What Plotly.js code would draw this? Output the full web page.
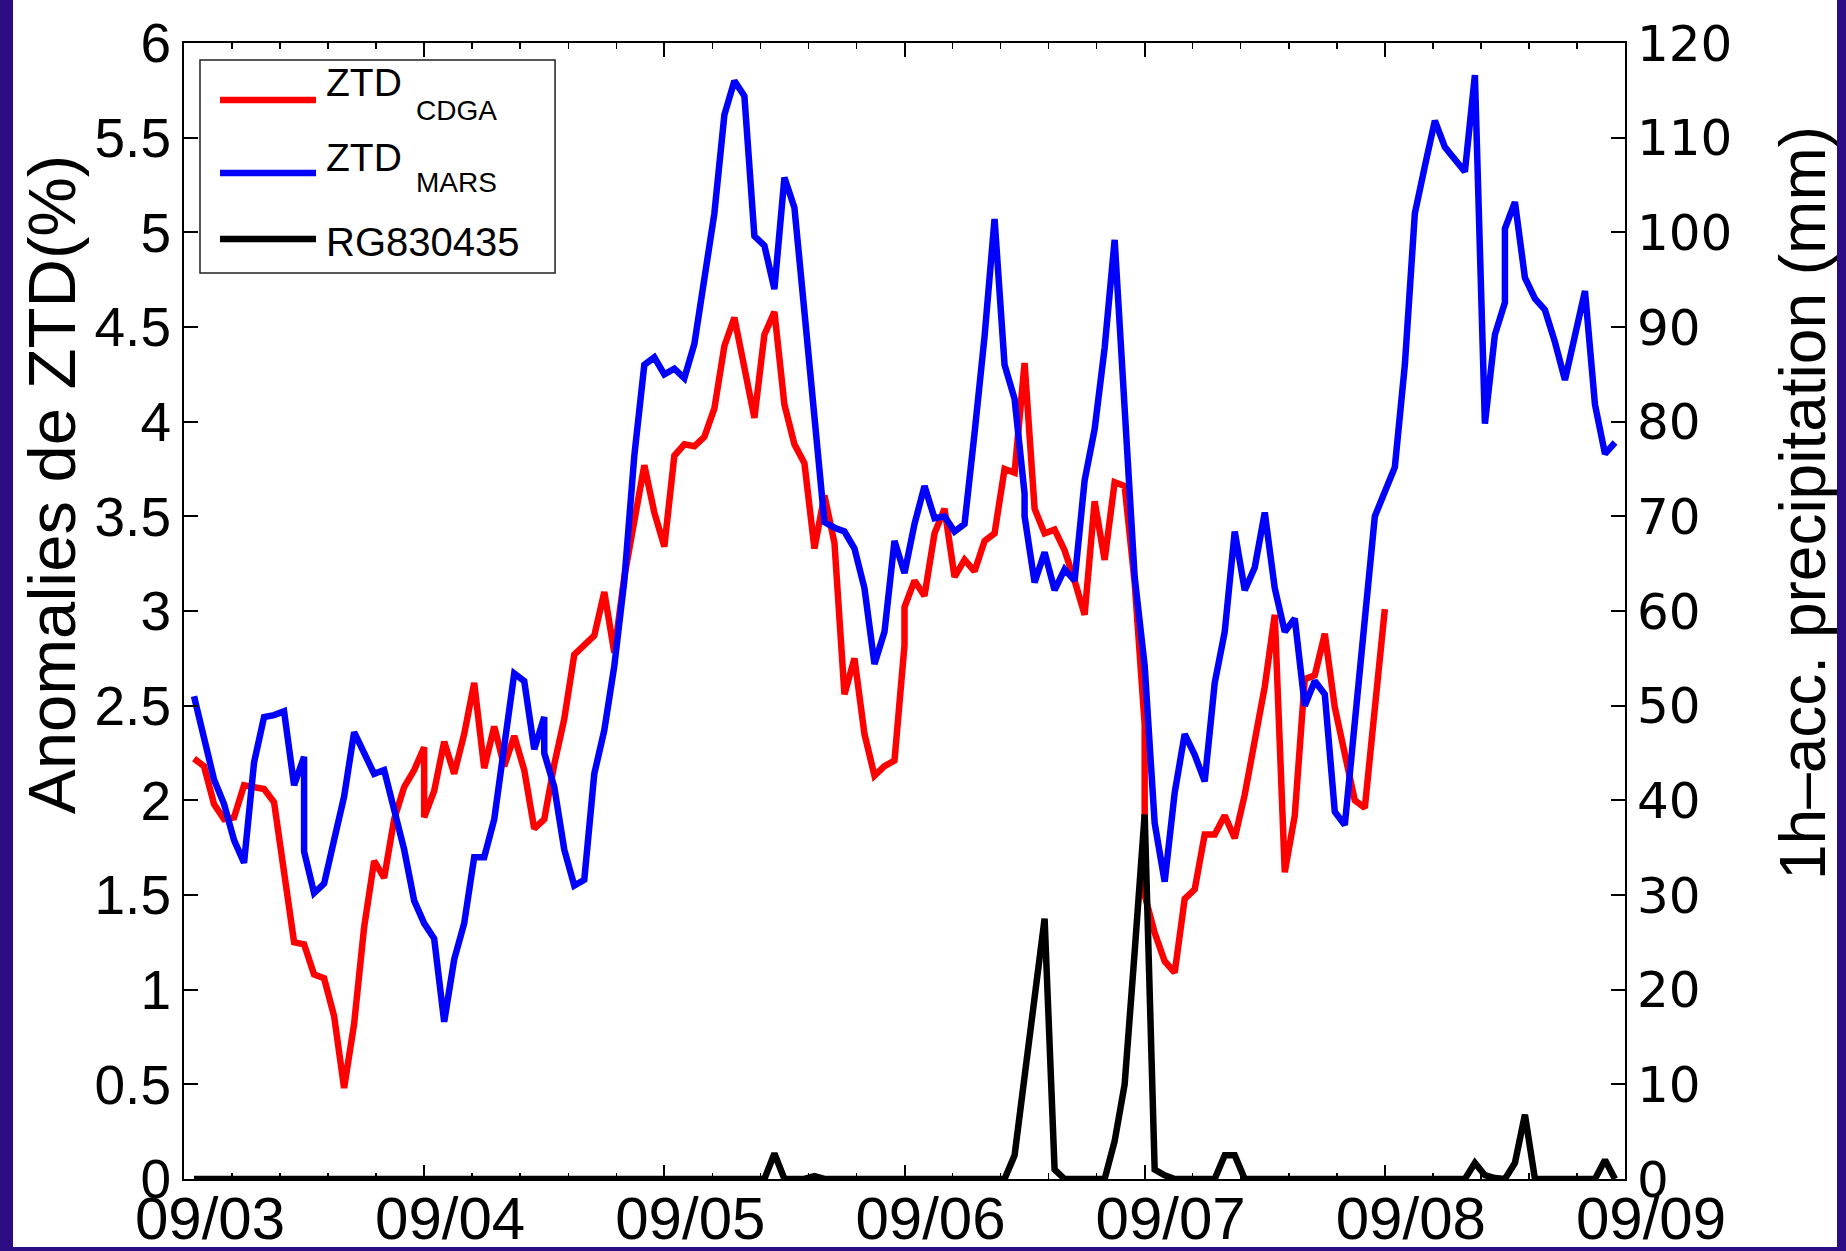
<!DOCTYPE html>
<html>
<head>
<meta charset="utf-8">
<script src="https://cdn.plot.ly/plotly-3.0.1.min.js"></script>
<style>
  html, body { margin: 0; padding: 0; width: 1846px; height: 1251px; overflow: hidden; background: #2c0c82; }
  #chart { position: absolute; left: 13px; top: 0; width: 1824px; height: 1247px; background: #fff; }
</style>
</head>
<body>
<div id="chart"></div>
<script>
// Time axis: hours after 09/03 00:00
const dayTicks = [0, 24, 48, 72, 96, 120, 144];
const dayLabels = ['09/03', '09/04', '09/05', '09/06', '09/07', '09/08', '09/09'];

// ZTD anomalies (%) from the CDGA solution, hourly, one array per processing window
const cdgaStarts = [1, 24, 48, 72, 96];
const cdgaWin1 = [2.22, 2.18, 1.98, 1.90, 1.91, 2.08, 2.07, 2.06, 1.99, 1.62, 1.25, 1.24, 1.08, 1.06, 0.86, 0.48, 0.82, 1.33, 1.68, 1.59, 1.90, 2.07, 2.16, 2.28];
const cdgaWin2 = [1.91, 2.05, 2.31, 2.14, 2.35, 2.62, 2.17, 2.39, 2.18, 2.34, 2.16, 1.85, 1.90, 2.19, 2.43, 2.77, 2.82, 2.87, 3.10, 2.78, 3.18, 3.50, 3.77, 3.52, 3.34];
const cdgaWin3 = [3.34, 3.82, 3.88, 3.87, 3.92, 4.07, 4.40, 4.55, 4.28, 4.02, 4.46, 4.58, 4.09, 3.88, 3.78, 3.33, 3.61, 3.36, 2.56, 2.75, 2.35, 2.13, 2.18, 2.21, 2.82];
const cdgaWin4 = [3.02, 3.16, 3.08, 3.41, 3.54, 3.18, 3.27, 3.21, 3.37, 3.41, 3.75, 3.73, 4.31, 3.54, 3.41, 3.43, 3.32, 3.16, 2.98, 3.58, 3.27, 3.68, 3.66, 3.15, 2.40];
const cdgaWin5 = [1.50, 1.30, 1.15, 1.09, 1.48, 1.53, 1.82, 1.82, 1.92, 1.80, 2.03, 2.31, 2.60, 2.98, 1.62, 1.92, 2.64, 2.66, 2.88, 2.49, 2.24, 2.00, 1.96, 2.48, 3.01];

// ZTD anomalies (%) from the MARS solution, hourly, one array per processing window
const marsStarts = [1, 12, 36, 60, 84, 108, 132];
const marsWin1 = [2.55, 2.32, 2.11, 1.98, 1.79, 1.67, 2.20, 2.44, 2.45, 2.47, 2.08, 2.23];
const marsWin2 = [1.73, 1.51, 1.56, 1.79, 2.02, 2.36, 2.25, 2.14, 2.16, 1.95, 1.74, 1.47, 1.35, 1.27, 0.83, 1.16, 1.35, 1.70, 1.70, 1.90, 2.28, 2.67, 2.63, 2.27, 2.44];
const marsWin3 = [2.25, 2.07, 1.74, 1.55, 1.58, 2.14, 2.37, 2.71, 3.16, 3.82, 4.30, 4.34, 4.25, 4.28, 4.23, 4.41, 4.73, 5.10, 5.62, 5.80, 5.72, 4.98, 4.93, 4.70, 5.29];
const marsWin4 = [5.29, 5.13, 4.58, 4.02, 3.47, 3.44, 3.42, 3.33, 3.12, 2.72, 2.89, 3.37, 3.20, 3.46, 3.66, 3.49, 3.50, 3.42, 3.46, 3.94, 4.45, 5.07, 4.30, 4.12, 3.62];
const marsWin5 = [3.50, 3.15, 3.31, 3.11, 3.22, 3.16, 3.69, 3.96, 4.39, 4.96, 4.07, 3.18, 2.71, 1.88, 1.57, 2.04, 2.35, 2.24, 2.10, 2.62, 2.89, 3.42, 3.11, 3.23, 3.52];
const marsWin6 = [3.52, 3.12, 2.89, 2.96, 2.50, 2.63, 2.56, 1.94, 1.87, 2.41, 2.96, 3.50, 3.63, 3.76, 4.30, 5.10, 5.35, 5.59, 5.45, 5.39, 5.32, 5.83, 3.99, 4.46, 4.63];
const marsWin7 = [5.02, 5.16, 4.76, 4.65, 4.59, 4.42, 4.22, 4.46, 4.69, 4.09, 3.83, 3.89];

// Rain gauge RG830435: 1-hour accumulated precipitation (mm), hours 1..143
const rainStart = 1;
const rainMm = [
  0, 0, 0, 0, 0, 0, 0, 0, 0, 0,
  0, 0, 0, 0, 0, 0, 0, 0, 0, 0,
  0, 0, 0, 0, 0, 0, 0, 0, 0, 0,
  0, 0, 0, 0, 0, 0, 0, 0, 0, 0,
  0, 0, 0, 0, 0, 0, 0, 0, 0, 0,
  0, 0, 0, 0, 0, 0, 0, 0, 2.7, 0,
  0, 0, 0.3, 0, 0, 0, 0, 0, 0, 0,
  0, 0, 0, 0, 0, 0, 0, 0, 0, 0,
  0, 0, 2.5, 11, 19.5, 27.5, 1, 0, 0, 0,
  0, 0, 4, 10, 24, 38.5, 1, 0.4, 0, 0,
  0, 0, 0, 2.5, 2.5, 0, 0, 0, 0, 0,
  0, 0, 0, 0, 0, 0, 0, 0, 0, 0,
  0, 0, 0, 0, 0, 0, 0, 0, 1.7, 0.4,
  0.1, 0, 1.7, 6.8, 0, 0, 0, 0, 0, 0,
  0, 2.0, 0
];

// Concatenate processing windows; shared boundary hours give the day/half-day jumps
function joinWindows(starts, windows) {
  const x = [], y = [];
  windows.forEach((w, k) => {
    w.forEach((v, i) => { x.push(starts[k] + i); y.push(v); });
  });
  return { x, y };
}

const cdga = joinWindows(cdgaStarts, [cdgaWin1, cdgaWin2, cdgaWin3, cdgaWin4, cdgaWin5]);
const mars = joinWindows(marsStarts, [marsWin1, marsWin2, marsWin3, marsWin4, marsWin5, marsWin6, marsWin7]);
const rainHours = rainMm.map((_, i) => rainStart + i);

const LW = 6.5;
const traces = [
  { x: cdga.x, y: cdga.y, type: 'scatter', mode: 'lines', name: 'ZTD CDGA',
    line: { color: '#ff0000', width: LW }, yaxis: 'y' },
  { x: mars.x, y: mars.y, type: 'scatter', mode: 'lines', name: 'ZTD MARS',
    line: { color: '#0000ff', width: LW }, yaxis: 'y' },
  { x: rainHours, y: rainMm, type: 'scatter', mode: 'lines', name: 'RG830435',
    line: { color: '#000000', width: LW }, yaxis: 'y2' }
];

// legend drawn as a boxed key in the upper-left corner
const key = { x0: 0.0111, x1: 0.2575, y0: 0.7975, y1: 0.985, lineX0: 0.0250, lineX1: 0.0916, textX: 0.0975, subX: 0.1596 };
const keyRows = [
  { color: '#ff0000', y: 0.9498, main: 'ZTD', mainY: 0.9648, sub: 'CDGA', subY: 0.9410 },
  { color: '#0000ff', y: 0.8856, main: 'ZTD', mainY: 0.8996, sub: 'MARS', subY: 0.8772 },
  { color: '#000000', y: 0.8275, main: 'RG830435', mainY: 0.8244, sub: '', subY: 0 }
];

const shapes = [
  { type: 'rect', xref: 'paper', yref: 'paper', x0: key.x0, x1: key.x1, y0: key.y0, y1: key.y1,
    line: { color: '#222', width: 1.5 }, fillcolor: '#ffffff', layer: 'above' }
];
const annotations = [];
keyRows.forEach(r => {
  shapes.push({ type: 'line', xref: 'paper', yref: 'paper', x0: key.lineX0, x1: key.lineX1, y0: r.y, y1: r.y,
    line: { color: r.color, width: LW }, layer: 'above' });
  annotations.push({ xref: 'paper', yref: 'paper', x: key.textX, y: r.mainY, xanchor: 'left', yanchor: 'middle',
    text: r.main, showarrow: false, font: { size: r.sub ? 39 : 40, color: '#000' } });
  if (r.sub) {
    annotations.push({ xref: 'paper', yref: 'paper', x: key.subX, y: r.subY, xanchor: 'left', yanchor: 'middle',
      text: r.sub, showarrow: false, font: { size: 28, color: '#000' } });
  }
});

annotations.push({ xref: 'paper', yref: 'paper', x: -0.0916, y: 0.611, xanchor: 'center', yanchor: 'middle',
  text: 'Anomalies de ZTD(%)', textangle: -90, showarrow: false, font: { size: 67, color: '#000' } });
annotations.push({ xref: 'paper', yref: 'paper', x: 1.1235, y: 0.595, xanchor: 'center', yanchor: 'middle',
  text: '1h\u2013acc. precipitation (mm)', textangle: -90, showarrow: false, font: { size: 64, color: '#000' } });

const layout = {
  width: 1824, height: 1247, autosize: false,
  margin: { l: 171, r: 212, t: 43, b: 68, pad: 0 },
  paper_bgcolor: '#ffffff', plot_bgcolor: '#ffffff',
  font: { family: 'Liberation Sans, Arial, sans-serif', color: '#000' },
  showlegend: false,
  xaxis: {
    range: [0, 144], tickmode: 'array', tickvals: dayTicks, ticktext: dayLabels,
    ticks: 'inside', ticklen: 14, tickwidth: 2, tickcolor: '#000',
    minor: { tickmode: 'linear', tick0: 0, dtick: 4.8, ticks: 'inside', ticklen: 6, tickwidth: 1.5, tickcolor: '#000' },
    showline: true, linecolor: '#000', linewidth: 2, mirror: 'ticks',
    showgrid: false, zeroline: false,
    tickfont: { size: 60 }, ticklabelshift: 26, ticklabelstandoff: -14
  },
  yaxis: {
    range: [0, 6], tickmode: 'linear', tick0: 0, dtick: 0.5,
    ticks: 'inside', ticklen: 14, tickwidth: 2, tickcolor: '#000',
    showline: true, linecolor: '#000', linewidth: 2,
    showgrid: false, zeroline: false,
    tickfont: { size: 55 }
  },
  yaxis2: {
    overlaying: 'y', side: 'right', range: [0, 120], tickmode: 'linear', tick0: 0, dtick: 10,
    ticks: 'inside', ticklen: 14, tickwidth: 2, tickcolor: '#000',
    showline: true, linecolor: '#000', linewidth: 2,
    showgrid: false, zeroline: false,
    tickfont: { family: 'DejaVu Sans, sans-serif', size: 50 }
  },
  shapes: shapes,
  annotations: annotations
};

Plotly.newPlot('chart', traces, layout, { displayModeBar: false, staticPlot: true });
</script>
</body>
</html>
